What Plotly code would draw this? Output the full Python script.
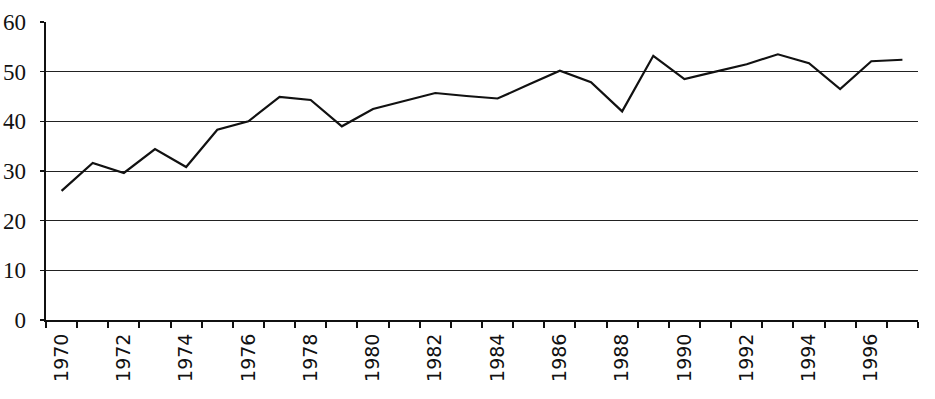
import plotly.graph_objects as go

years = list(range(1970, 1998))
values = [26.0, 31.6, 29.6, 34.4, 30.8, 38.3, 40.0, 44.9, 44.3, 39.0,
          42.5, 44.1, 45.7, 45.1, 44.6, 47.4, 50.2, 47.9, 42.0, 53.2,
          48.5, 50.0, 51.5, 53.5, 51.7, 46.5, 52.1, 52.4]
x_labels = [y for y in years if y % 2 == 0]
y_ticks = [0, 10, 20, 30, 40, 50, 60]

boundaries = [y - 0.5 for y in years] + [years[-1] + 0.5]

fig = go.Figure()
fig.add_trace(go.Scatter(
    x=years, y=values, mode="lines",
    line=dict(color="#111111", width=2.2),
    showlegend=False, hoverinfo="skip",
))

fig.update_layout(
    width=935, height=399,
    margin=dict(l=46, r=17, t=22, b=79),
    paper_bgcolor="white", plot_bgcolor="white",
)
fig.update_xaxes(
    range=[boundaries[0], boundaries[-1]], automargin=False,
    tickmode="array", tickvals=x_labels, ticktext=[str(v) for v in x_labels],
    tickangle=-90, ticks="", ticklen=0,
    tickfont=dict(family="DejaVu Sans", size=19, color="#111111"),
    showgrid=False, zeroline=False,
    showline=True, linecolor="#111111", linewidth=2,
    minor=dict(tickmode="array", tickvals=boundaries, ticks="outside",
               ticklen=6, tickwidth=2, tickcolor="#111111", showgrid=False),
    ticklabelstandoff=4,
)
fig.update_yaxes(
    range=[0, 60], tickmode="array", tickvals=y_ticks, automargin=False,
    ticks="outside", ticklen=4, tickwidth=1.5, tickcolor="#111111",
    tickfont=dict(family="Liberation Serif", size=23, color="#111111"),
    showgrid=True, gridcolor="#222222", gridwidth=1,
    zeroline=False, showline=True, linecolor="#111111", linewidth=2.5,
    ticklabelstandoff=9,
)

fig.write_html(
    "out.html",
    config={"displayModeBar": False, "staticPlot": True},
    post_script="document.body.style.margin='0';document.body.style.overflow='hidden';",
)
